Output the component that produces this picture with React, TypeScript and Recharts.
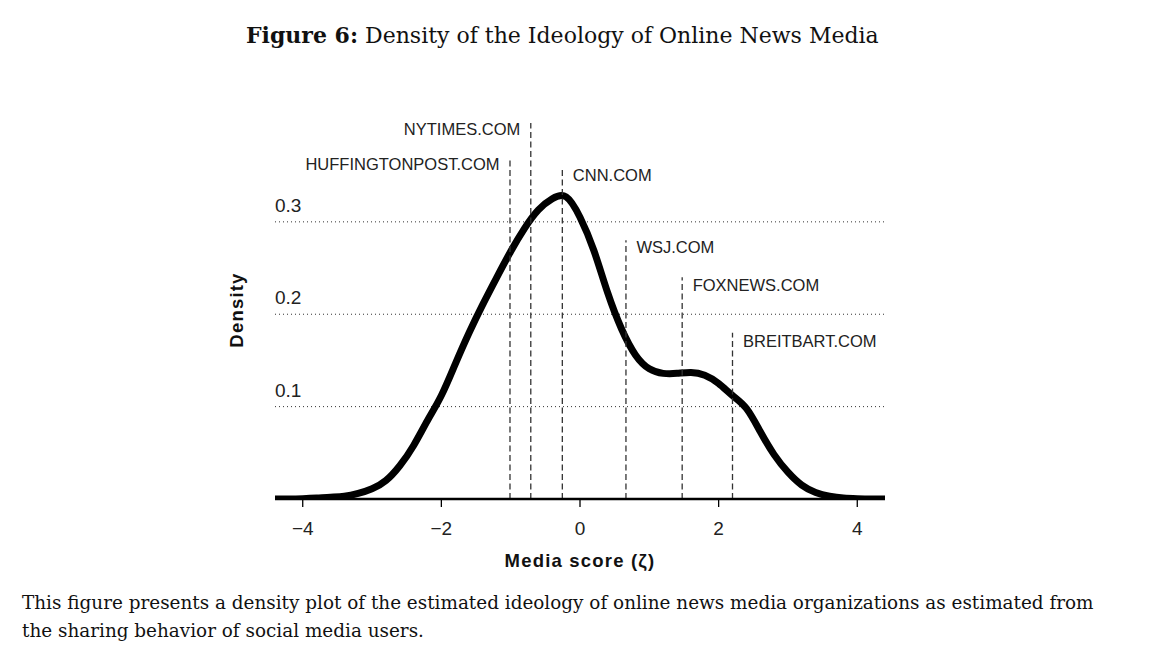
import React from "react";
import { LineChart, Line, XAxis, YAxis, ReferenceLine } from "recharts";

// media score grid (zeta) and estimated density
const scores = [
  -4.4, -4.2, -4.0, -3.8, -3.6, -3.4, -3.2, -3.0, -2.8, -2.6, -2.4, -2.2, -2.0,
  -1.8, -1.6, -1.4, -1.2, -1.0, -0.8, -0.6, -0.4, -0.2, 0.0, 0.2, 0.4, 0.6,
  0.8, 1.0, 1.2, 1.4, 1.6, 1.8, 2.0, 2.2, 2.4, 2.6, 2.8, 3.0, 3.2, 3.4, 3.6,
  3.8, 4.0, 4.2, 4.4,
];
const density = [
  0, 0, 0.0003, 0.001, 0.002, 0.003, 0.006, 0.011, 0.02, 0.036, 0.058, 0.085,
  0.112, 0.146, 0.18, 0.211, 0.24, 0.268, 0.293, 0.313, 0.325, 0.327, 0.305,
  0.269, 0.223, 0.184, 0.156, 0.141, 0.136, 0.136, 0.137, 0.134, 0.125, 0.112,
  0.098, 0.073, 0.048, 0.029, 0.015, 0.007, 0.003, 0.001, 0.0003, 0, 0,
];

// outlets marked with dashed lines
const sites = [
  "HUFFINGTONPOST.COM",
  "NYTIMES.COM",
  "CNN.COM",
  "WSJ.COM",
  "FOXNEWS.COM",
  "BREITBART.COM",
];
const siteScores = [-1.01, -0.71, -0.255, 0.663, 1.474, 2.2];

const xTicks = [-4, -2, 0, 2, 4];
const yTicks = [0.1, 0.2, 0.3];

// layout only: where each dashed line stops (density units), label side and baseline offset
const lineTops = [0.367, 0.407, 0.357, 0.28, 0.24, 0.18];
const labelLeft = [true, true, false, false, false, false];
const labelDy = [10, 12, 12, 13, 14, 14];

const data = scores.map((x, i) => ({ x, density: density[i] }));

const SANS = "'Liberation Sans', Arial, Helvetica, sans-serif";
const SERIF = "'DejaVu Serif', serif";
const W = 1156;
const H = 656;

const XTick = ({ x, y, payload }: any) => (
  <text
    x={x}
    y={y + 26}
    textAnchor="middle"
    fontSize={19}
    fontFamily={SANS}
    fill="#222"
  >
    {String(payload.value).replace("-", "\u2212")}
  </text>
);

const YTick = ({ y, payload }: any) => (
  <text x={275} y={y - 10} fontSize={19} fontFamily={SANS} fill="#222">
    {payload.value.toFixed(1)}
  </text>
);

const siteLabel = (i: number) => (props: any) => {
  const vb = props.viewBox ?? props;
  const left = labelLeft[i];
  return (
    <text
      x={vb.x + (left ? -10.5 : 10.5)}
      y={vb.y + labelDy[i]}
      textAnchor={left ? "end" : "start"}
      fontSize={16.5}
      fontFamily={SANS}
      fill="#222"
    >
      {sites[i]}
    </text>
  );
};

export default function App() {
  return (
    <div
      style={{
        position: "absolute",
        left: 0,
        top: 0,
        width: W,
        height: H,
        background: "#fff",
        overflow: "hidden",
      }}
    >
      <div
        style={{
          position: "absolute",
          left: 246,
          top: 22,
          whiteSpace: "nowrap",
          fontFamily: SERIF,
          fontSize: 22,
          color: "#111",
        }}
      >
        <b>Figure 6:</b> Density of the Ideology of Online News Media
      </div>

      <LineChart
        width={W}
        height={H}
        data={data}
        margin={{ top: 111, right: 271, bottom: 97, left: 275 }}
      >
        <XAxis
          dataKey="x"
          type="number"
          domain={[-4.4, 4.4]}
          ticks={xTicks}
          allowDataOverflow
          height={60}
          axisLine={{ stroke: "#000", strokeWidth: 2.5 }}
          tickLine={{ stroke: "#000", strokeWidth: 1.3 }}
          tickSize={8}
          tick={<XTick />}
          label={{
            content: (p: any) => (
              <text
                x={p.viewBox.x + p.viewBox.width / 2}
                y={p.viewBox.y + 68}
                textAnchor="middle"
                fontSize={18.5}
                fontWeight="bold"
                letterSpacing={1.2}
                fontFamily={SANS}
                fill="#111"
              >
                Media score (ζ)
              </text>
            ),
          }}
        />
        <YAxis
          type="number"
          domain={[0, 0.42]}
          ticks={yTicks}
          allowDataOverflow
          mirror
          axisLine={false}
          tickLine={false}
          tick={<YTick />}
          label={{
            content: () => (
              <text
                x={243}
                y={310}
                transform="rotate(-90 243 310)"
                textAnchor="middle"
                fontSize={18.5}
                fontWeight="bold"
                letterSpacing={1.2}
                fontFamily={SANS}
                fill="#111"
              >
                Density
              </text>
            ),
          }}
        />
        {yTicks.map((v) => (
          <ReferenceLine
            key={v}
            y={v}
            stroke="#333"
            strokeWidth={1}
            strokeDasharray="1 3"
          />
        ))}
        <Line
          type="natural"
          dataKey="density"
          stroke="#000"
          strokeWidth={7}
          dot={false}
          activeDot={false}
          isAnimationActive={false}
        />
        {sites.map((s, i) => (
          <ReferenceLine
            key={s}
            segment={[
              { x: siteScores[i], y: 0 },
              { x: siteScores[i], y: lineTops[i] },
            ]}
            stroke="#333"
            strokeWidth={1.3}
            strokeDasharray="6 3.5"
            ifOverflow="visible"
            label={siteLabel(i)}
          />
        ))}
      </LineChart>

      <div
        style={{
          position: "absolute",
          left: 22,
          top: 589,
          whiteSpace: "nowrap",
          fontFamily: SERIF,
          fontSize: 18.4,
          lineHeight: "28px",
          color: "#111",
        }}
      >
        <div>
          This figure presents a density plot of the estimated ideology of
          online news media organizations as estimated from
        </div>
        <div>the sharing behavior of social media users.</div>
      </div>
    </div>
  );
}
